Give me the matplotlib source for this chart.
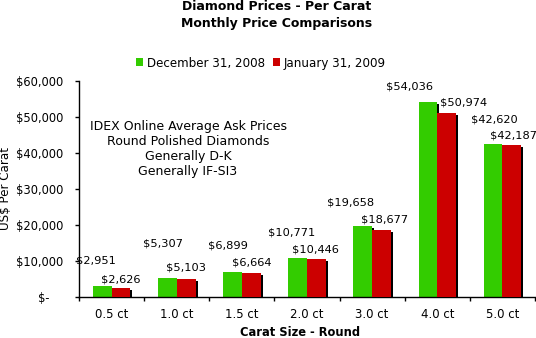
import matplotlib
matplotlib.use('Agg')

import matplotlib.pyplot as plt
import matplotlib.transforms as mtransforms
import numpy as np

# data
carats = ['0.5 ct', '1.0 ct', '1.5 ct', '2.0 ct', '3.0 ct', '4.0 ct', '5.0 ct']
dec_2008 = [2951, 5307, 6899, 10771, 19658, 54036, 42620]
jan_2009 = [2626, 5103, 6664, 10446, 18677, 50974, 42187]
series_names = ['December 31, 2008', 'January 31, 2009']
y_ticks = [0, 10000, 20000, 30000, 40000, 50000, 60000]
note_lines = ['IDEX Online Average Ask Prices', 'Round Polished Diamonds',
              'Generally D-K', 'Generally IF-SI3']

# label nudges in pixels (dx from bar centre, dy above bar top)
dec_dx = [-6, -4, -5, -6, -12, -18, 1]
dec_dy = [26, 34, 27, 26, 24, 16, 24]
jan_dx = [0, 0, 0, -1, 3, 17, 2]
jan_dy = [8, 11, 11, 10, 10, 11, 10]

GREEN = '#33cc00'
RED = '#cc0000'

fig = plt.figure(figsize=(5.36, 3.38), dpi=100)
ax = fig.add_axes([79 / 536, 41 / 338, 456 / 536, 216 / 338])

x = np.arange(len(carats)) + 0.5
width = 0.288
shadow = ax.transData + mtransforms.ScaledTranslation(2 / 100, -2 / 100, fig.dpi_scale_trans)

for xs, vals in [(x - 0.143, dec_2008), (x + 0.145, jan_2009)]:
  ax.bar(xs, vals, width, color='black', transform=shadow, zorder=1)
dec_bars = ax.bar(x - 0.143, dec_2008, width, color=GREEN, zorder=2, label=series_names[0])
jan_bars = ax.bar(x + 0.145, jan_2009, width, color=RED, zorder=3, label=series_names[1])

def autolabel(rects, vals, dxs, dys):
  for rect, v, dx, dy in zip(rects, vals, dxs, dys):
    ax.annotate('${:,}'.format(v),
                xy=(rect.get_x() + rect.get_width() / 2, v),
                xytext=(dx, dy), textcoords='offset pixels',
                ha='center', va='center', fontsize=8.2, zorder=5,
                annotation_clip=False)

autolabel(dec_bars, dec_2008, dec_dx, dec_dy)
autolabel(jan_bars, jan_2009, jan_dx, jan_dy)

ax.set_xlim(0, len(carats))
ax.set_ylim(0, 60000)
ax.set_xticks(np.arange(len(carats) + 1))
ax.set_xticklabels([])
ax.set_xticks(x, minor=True)
ax.set_xticklabels(carats, minor=True, fontsize=8.5)
ax.tick_params(axis='x', which='major', length=3, width=1, direction='out')
ax.tick_params(axis='x', which='minor', length=0, pad=8)
ax.set_yticks(y_ticks)
ax.set_yticklabels(['$-    '] + ['${:,}'.format(v) for v in y_ticks[1:]], fontsize=8.3)
ax.tick_params(axis='y', length=3, width=1, direction='out', pad=8)

for s in ['top', 'right']:
  ax.spines[s].set_visible(False)
for s in ['left', 'bottom']:
  ax.spines[s].set_linewidth(1)
  ax.spines[s].set_color('black')

ax.text(188 / 536, 1 - 149 / 338, '\n'.join(note_lines), transform=fig.transFigure,
        ha='center', va='center', fontsize=9, linespacing=1.22)

fig.text(277 / 536, 1 - 6 / 338, 'Diamond Prices - Per Carat', ha='center', va='center',
         fontsize=9, fontweight='bold')
fig.text(277 / 536, 1 - 23 / 338, 'Monthly Price Comparisons', ha='center', va='center',
         fontsize=9, fontweight='bold')
fig.text(300 / 536, 1 - 333 / 338, 'Carat Size - Round', ha='center', va='center',
         fontsize=8.3, fontweight='bold')
fig.text(6 / 536, 1 - 189 / 338, 'US$ Per Carat', ha='center', va='center',
         rotation=90, fontsize=8.6)

fig.legend(handles=[dec_bars, jan_bars], loc='center', bbox_to_anchor=(261 / 536, 1 - 63 / 338),
           ncol=2, frameon=False, fontsize=8.6, handlelength=0.62, handleheight=0.62,
           handletextpad=0.35, columnspacing=0.6, borderpad=0, borderaxespad=0)

fig.savefig('out.png', dpi=100)
